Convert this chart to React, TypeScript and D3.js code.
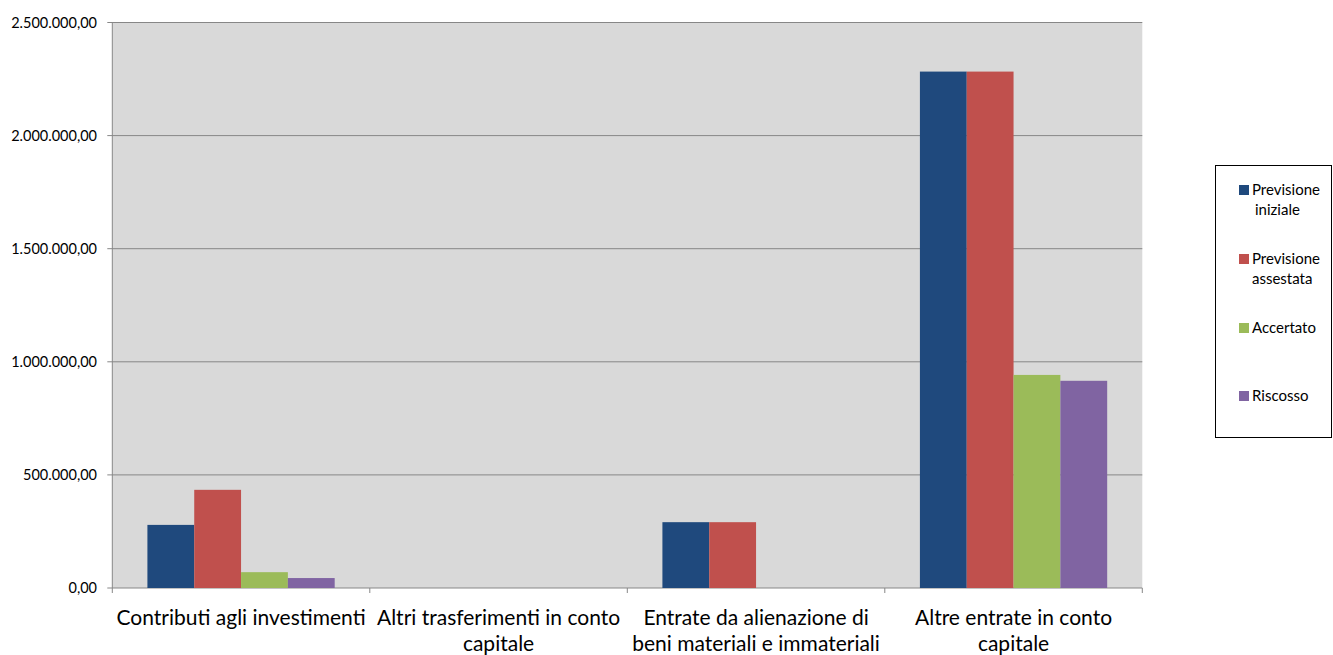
import React from "react";
import * as d3 from "d3";

const categories: string[][] = [
  ["Contributi agli investimenti"],
  ["Altri trasferimenti in conto", "capitale"],
  ["Entrate da alienazione di", "beni materiali e immateriali"],
  ["Altre entrate in conto", "capitale"],
];
const seriesNames: string[][] = [
  ["Previsione", "iniziale"],
  ["Previsione", "assestata"],
  ["Accertato"],
  ["Riscosso"],
];
const previsioneIniziale = [279000, 0, 291000, 2283000];
const previsioneAssestata = [434000, 0, 291000, 2283000];
const accertato = [70000, 0, 0, 942000];
const riscosso = [44000, 0, 0, 916000];
const yTicks = [0, 500000, 1000000, 1500000, 2000000, 2500000];
const colors = ["#1f497d", "#c0504d", "#9bbb59", "#8064a2"];

const series = [previsioneIniziale, previsioneAssestata, accertato, riscosso];

const fmt = (v: number) => {
  const s = d3.format(",.2f")(v);
  return s.replace(/,/g, "#").replace(".", ",").replace(/#/g, ".");
};

export default function App() {
  const W = 1333, H = 655;
  const left = 112.3, right = 1142.3, top = 22.5, bottom = 588;
  const font = "Lato, 'Open Sans', sans-serif";
  const x0 = d3.scaleBand<number>().domain(d3.range(categories.length)).range([left, right]).paddingInner(0).paddingOuter(0);
  const bw = x0.bandwidth() / 5.5;
  const y = d3.scaleLinear().domain([0, 2500000]).range([bottom, top]);
  const legendY = [190, 259, 328, 396];
  return (
    <svg width={W} height={H} style={{ position: "absolute", left: 0, top: 0 }}>
      <rect x={0} y={0} width={W} height={H} fill="#fff" />
      <rect x={left} y={top} width={right - left} height={bottom - top} fill="#d9d9d9" />
      {yTicks.map((t) => (
        <g key={t}>
          <line x1={left - 5} x2={right} y1={y(t)} y2={y(t)} stroke="#878787" strokeWidth={1} />
          <text x={97} y={y(t)} dy="0.35em" textAnchor="end" fontFamily={font} fontSize={14.5} fill="#000">
            {fmt(t)}
          </text>
        </g>
      ))}
      <line x1={left} x2={left} y1={top} y2={bottom} stroke="#878787" />
      {d3.range(categories.length + 1).map((i) => {
        const xx = left + i * x0.bandwidth();
        return <line key={i} x1={xx} x2={xx} y1={bottom} y2={bottom + 5} stroke="#878787" />;
      })}
      {series.map((vals, si) =>
        vals.map((v, ci) =>
          v > 0 ? (
            <rect
              key={`${si}-${ci}`}
              x={(x0(ci) as number) + 0.75 * bw + si * bw}
              y={y(v)}
              width={bw}
              height={y(0) - y(v)}
              fill={colors[si]}
            />
          ) : null
        )
      )}
      {categories.map((lines, ci) => (
        <text key={ci} textAnchor="middle" fontFamily={font} fontSize={21} fill="#000">
          {lines.map((l, li) => (
            <tspan key={li} x={(x0(ci) as number) + x0.bandwidth() / 2} y={625 + li * 26}>
              {l}
            </tspan>
          ))}
        </text>
      ))}
      <rect x={1215.5} y={165.5} width={116} height={272} fill="#fff" stroke="#000" strokeWidth={1} />
      {seriesNames.map((lines, si) => (
        <g key={si}>
          <rect x={1239} y={legendY[si] - 5} width={10} height={10} fill={colors[si]} />
          <text fontFamily={font} fontSize={15} fill="#000">
            {lines.map((l, li) => (
              <tspan key={li} x={li === 0 ? 1252 : si === 0 ? 1255 : 1252} y={legendY[si] + 5 + li * 20}>
                {l}
              </tspan>
            ))}
          </text>
        </g>
      ))}
    </svg>
  );
}
